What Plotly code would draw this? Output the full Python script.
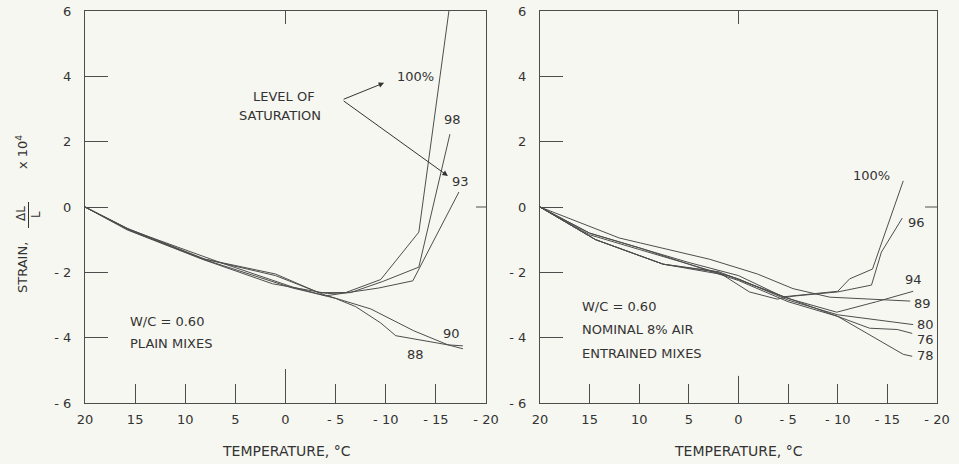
import plotly.graph_objects as go

# ---------------- data (temperature in deg C, strain x 10^4) ----------------
# Left panel: W/C = 0.60, plain mixes
plain_100_t = [20, 15.8, 8.3, 1.0, -3.3, -6.0, -9.5, -10.5, -13.3, -16.3]
plain_100_s = [0, -0.67, -1.58, -2.05, -2.62, -2.62, -2.22, -1.84, -0.77, 6.0]
plain_98_t = [20, 15.8, 8.3, 1.3, -4.2, -6.5, -9.7, -13.3, -16.4]
plain_98_s = [0, -0.70, -1.60, -2.35, -2.65, -2.62, -2.28, -1.84, 2.23]
plain_93_t = [20, 15.5, 8.0, -0.7, -4.0, -9.3, -12.7, -17.3]
plain_93_s = [0, -0.72, -1.62, -2.48, -2.72, -2.48, -2.26, 0.46]
plain_90_t = [20, 15.8, 8.0, 1.0, -4.0, -8.5, -12.8, -16.2, -17.7]
plain_90_s = [0, -0.65, -1.60, -2.10, -2.70, -3.12, -3.79, -4.22, -4.34]
plain_88_t = [20, 15.5, 6.5, -0.7, -5.0, -7.0, -9.5, -11.0, -16.2, -17.7]
plain_88_s = [0, -0.70, -1.70, -2.45, -2.80, -3.05, -3.55, -3.94, -4.22, -4.25]

# Right panel: W/C = 0.60, nominal 8 % air entrained mixes
air_100_t = [20, 15, 10, 5, 0, -4.5, -10, -11.2, -13.5, -16.6]
air_100_s = [0, -0.80, -1.25, -1.70, -2.10, -2.75, -2.58, -2.20, -1.90, 0.80]
air_96_t = [20, 14.4, 7.6, 2, -1.1, -3.9, -5.5, -10, -13.4, -14.4, -16.5]
air_96_s = [0, -1.0, -1.75, -2.0, -2.6, -2.82, -2.73, -2.6, -2.39, -1.38, -0.34]
air_94_t = [20, 14.4, 7.6, 1, -5, -9.9, -13.9, -17.6]
air_94_s = [0, -1.0, -1.75, -2.1, -2.8, -3.22, -2.9, -2.58]
air_89_t = [20, 12, 9.9, 2.9, -1.9, -5.5, -9.2, -17.3]
air_89_s = [0, -0.95, -1.1, -1.6, -2.05, -2.5, -2.76, -2.88]
air_80_t = [20, 15, 10, 5, 0, -5, -10, -17.6]
air_80_s = [0, -0.85, -1.3, -1.75, -2.2, -2.85, -3.3, -3.6]
air_76_t = [20, 14.4, 7.6, 2, -1.5, -5, -10, -13.2, -16, -17.5]
air_76_s = [0, -1.0, -1.75, -1.98, -2.4, -2.8, -3.35, -3.71, -3.75, -3.87]
air_78_t = [20, 15, 10, 5, 0, -5, -10, -16.6, -17.5]
air_78_s = [0, -0.8, -1.25, -1.75, -2.25, -2.9, -3.35, -4.51, -4.57]

x_tickvals = [20, 15, 10, 5, 0, -5, -10, -15, -20]
x_ticktext = ["20", "15", "10", "5", "0", "- 5", "- 10", "- 15", "- 20"]
y_tickvals = [6, 4, 2, 0, -2, -4, -6]
y_ticktext = ["6", "4", "2", "0", "- 2", "- 4", "- 6"]

plain_labels = ["100%", "98", "93", "90", "88"]
plain_label_t = [-13.0, -16.7, -17.5, -16.6, -13.0]
plain_label_s = [3.98, 2.69, 0.77, -3.86, -4.50]
air_labels = ["100%", "96", "94", "89", "80", "76", "78"]
air_label_t = [-13.4, -17.9, -17.6, -18.5, -18.8, -18.8, -18.8]
air_label_s = [0.95, -0.46, -2.21, -2.94, -3.59, -4.05, -4.54]

plain_notes = ["W/C = 0.60", "PLAIN MIXES"]
plain_notes_s = [-3.52, -4.19]
air_notes = ["W/C = 0.60", "NOMINAL 8% AIR", "ENTRAINED MIXES"]
air_notes_s = [-3.04, -3.74, -4.48]

# ---------------- figure ----------------
W, H = 959, 464
FONT = "DejaVu Sans"
INK = "#333333"
LINE = "#4d4d4d"
BG = "#f7f7f1"

fig = go.Figure()

plain = [(plain_100_t, plain_100_s), (plain_98_t, plain_98_s), (plain_93_t, plain_93_s),
         (plain_90_t, plain_90_s), (plain_88_t, plain_88_s)]
air = [(air_100_t, air_100_s), (air_96_t, air_96_s), (air_94_t, air_94_s), (air_89_t, air_89_s),
       (air_80_t, air_80_s), (air_76_t, air_76_s), (air_78_t, air_78_s)]

for t, s in plain:
    fig.add_trace(go.Scatter(x=t, y=s, mode="lines", xaxis="x", yaxis="y",
                             line=dict(color=LINE, width=1), showlegend=False, hoverinfo="skip"))
for t, s in air:
    fig.add_trace(go.Scatter(x=t, y=s, mode="lines", xaxis="x2", yaxis="y2",
                             line=dict(color=LINE, width=1), showlegend=False, hoverinfo="skip"))


def xax(dom, anchor):
    return dict(domain=dom, anchor=anchor, range=[20, -20], tickmode="array",
                tickvals=x_tickvals, ticktext=x_ticktext, ticks="inside", ticklen=19,
                tickcolor=LINE, tickwidth=1, showline=True, linecolor=LINE, linewidth=1,
                mirror=True, showgrid=False, zeroline=False, automargin=False,
                tickfont=dict(family=FONT, size=13, color=INK), ticklabelstandoff=4,
                fixedrange=True)


def yax(anchor):
    return dict(domain=[1 - 403 / H, 1 - 11 / H], anchor=anchor, range=[-6, 6], tickmode="array",
                tickvals=y_tickvals, ticktext=y_ticktext, ticks="inside", ticklen=23,
                tickcolor=LINE, tickwidth=1, showline=True, linecolor=LINE, linewidth=1,
                mirror=True, showgrid=False, zeroline=False, automargin=False,
                tickfont=dict(family=FONT, size=13, color=INK), ticklabelstandoff=10,
                fixedrange=True)


def txt(text, x, y, xref, yref, size=13, angle=0, xanchor="center"):
    return dict(x=x, y=y, xref=xref, yref=yref, text=text, showarrow=False,
                xanchor=xanchor, yanchor="middle", textangle=angle,
                font=dict(family=FONT, size=size, color=INK))


annotations = []
for lab, t, s in zip(plain_labels, plain_label_t, plain_label_s):
    annotations.append(txt(lab, t, s, "x", "y"))
for lab, t, s in zip(air_labels, air_label_t, air_label_s):
    annotations.append(txt(lab, t, s, "x2", "y2"))

# "LEVEL OF SATURATION" with two arrows
annotations.append(txt("LEVEL OF", 0.2, 3.37, "x", "y"))
annotations.append(txt("SATURATION", 0.5, 2.79, "x", "y"))
for hx, hy in [(-9.84, 3.8), (-16.2, 0.95)]:
    annotations.append(dict(x=hx, y=hy, xref="x", yref="y", ax=-5.65, ay=3.28,
                            axref="x", ayref="y", text="", showarrow=True, arrowhead=2,
                            arrowsize=1.1, arrowwidth=1, arrowcolor=INK))

# panel notes
for line, s in zip(plain_notes, plain_notes_s):
    annotations.append(txt(line, 15.7, s, "x", "y", xanchor="left"))
for line, s in zip(air_notes, air_notes_s):
    annotations.append(txt(line, 16.0, s, "x2", "y2", xanchor="left"))

# axis titles
for cx in [286, 738]:
    annotations.append(txt("TEMPERATURE, °C", cx / W, 1 - 451 / H, "paper", "paper", size=14))
annotations.append(txt("STRAIN,", 22 / W, 1 - 268 / H, "paper", "paper", angle=-90))
annotations.append(txt("ΔL", 21 / W, 1 - 214 / H, "paper", "paper", size=12, angle=-90))
annotations.append(txt("L", 36 / W, 1 - 215 / H, "paper", "paper", size=12, angle=-90))
annotations.append(txt("x 10<sup>4</sup>", 22 / W, 1 - 152 / H, "paper", "paper", angle=-90))

shapes = [
    # fraction bar of the y-axis title
    dict(type="line", xref="paper", yref="paper", x0=28.5 / W, x1=28.5 / W,
         y0=1 - 228 / H, y1=1 - 202 / H, line=dict(color=INK, width=1)),
]
for xr, yr, zlen, rtick in [("x", "y", 1.04, 1.0), ("x2", "y2", 0.83, 1.2)]:
    shapes.append(dict(type="line", xref=xr, yref=yr, x0=0, x1=0, y0=-6, y1=-6 + zlen,
                       line=dict(color=LINE, width=1)))
    shapes.append(dict(type="line", xref=xr, yref=yr, x0=0, x1=0, y0=6, y1=5.6,
                       line=dict(color=LINE, width=1)))
    shapes.append(dict(type="line", xref=xr, yref=yr, x0=-20, x1=-20 + rtick, y0=0, y1=0,
                       line=dict(color=LINE, width=1)))

fig.update_layout(
    width=W, height=H,
    margin=dict(l=0, r=0, t=0, b=0),
    paper_bgcolor=BG, plot_bgcolor=BG,
    xaxis=xax([85 / W, 486 / W], "y"),
    yaxis=yax("x"),
    xaxis2=xax([540 / W, 937 / W], "y2"),
    yaxis2=yax("x2"),
    annotations=annotations,
    shapes=shapes,
    showlegend=False,
    font=dict(family=FONT, color=INK),
)

fig.write_html("out.html", config={"displayModeBar": False},
               post_script="document.body.style.margin='0';document.body.style.background='%s';" % BG)
